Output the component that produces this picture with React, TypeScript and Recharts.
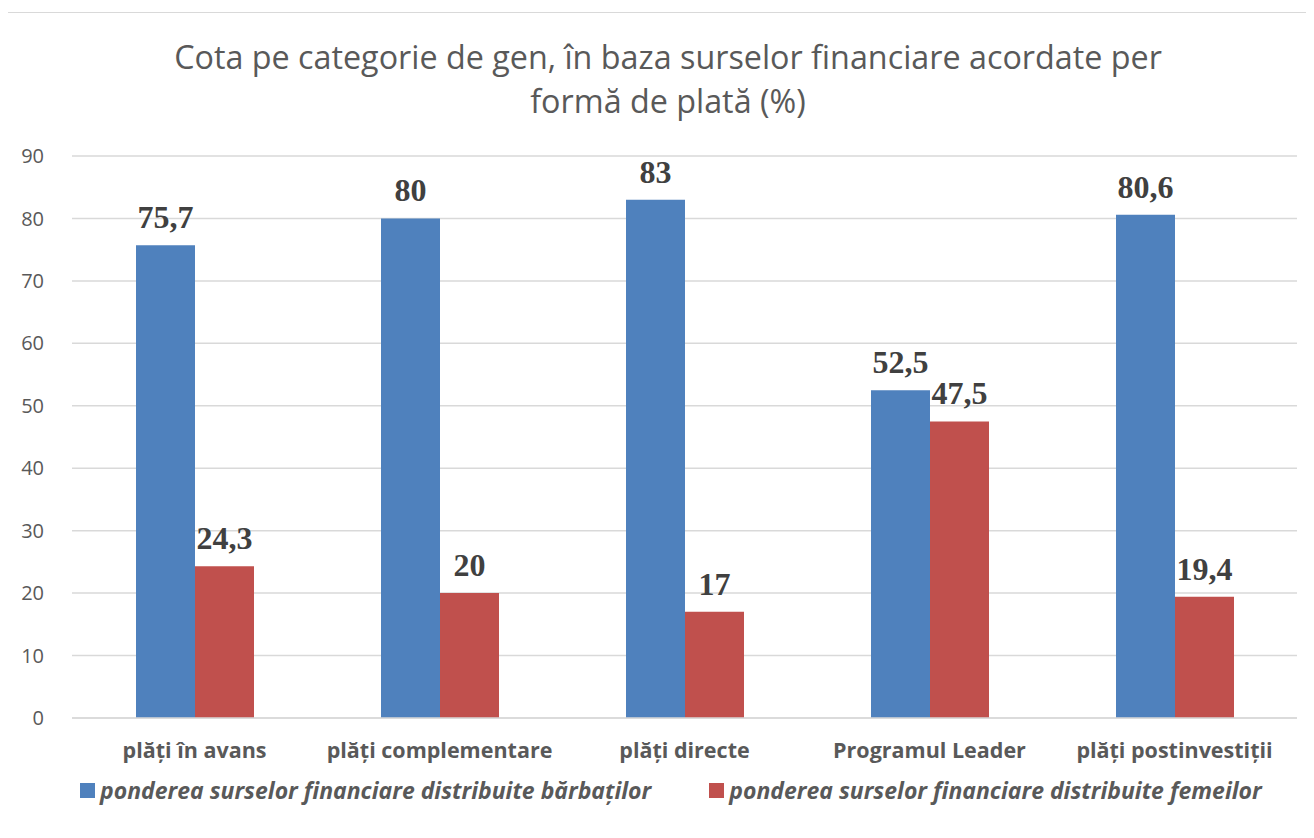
import { BarChart, Bar, XAxis, YAxis, CartesianGrid, LabelList } from 'recharts';

const categories = ['plăți în avans', 'plăți complementare', 'plăți directe', 'Programul Leader', 'plăți postinvestiții'];
const barbati = [75.7, 80, 83, 52.5, 80.6];
const femei = [24.3, 20, 17, 47.5, 19.4];
const yTicks = [0, 10, 20, 30, 40, 50, 60, 70, 80, 90];

const BLUE = '#4F81BD';
const RED = '#C0504D';
const SANS = '"Open Sans", "Noto Sans", sans-serif';
const SERIF = '"Liberation Serif", "Times New Roman", serif';

const data = categories.map((name, i) => ({ name, barbati: barbati[i], femei: femei[i] }));

const fmt = (v: any) => String(v).replace('.', ',');

const legendItems = [
  { color: BLUE, text: 'ponderea surselor financiare distribuite bărbaților' },
  { color: RED, text: 'ponderea surselor financiare distribuite femeilor' },
];

export default function App() {
  return (
    <div style={{ margin: -8, position: 'relative', width: 1314, height: 838, background: '#fff', overflow: 'hidden' }}>
      <div style={{ position: 'absolute', left: 7, top: 12, width: 1320, height: 840, border: '1px solid #d9d9d9' }} />
      <div style={{ position: 'absolute', left: 0, top: 34, width: 1336, textAlign: 'center', fontFamily: SANS, fontSize: 32.3, lineHeight: '44px', color: '#595959' }}>
        Cota pe categorie de gen, în baza surselor financiare acordate per<br />formă de plată (%)
      </div>
      <BarChart width={1314} height={838} data={data} margin={{ top: 156, right: 17, bottom: 90, left: 0 }} barGap={0} barSize={59}>
        <CartesianGrid vertical={false} stroke="#d9d9d9" strokeWidth={1.5} />
        <XAxis dataKey="name" height={30} axisLine={{ stroke: '#d9d9d9', strokeWidth: 1.5 }} tickLine={false} tickMargin={19}
          tick={{ fontFamily: SANS, fontWeight: 700, fontSize: 21.5, fill: '#595959' }} interval={0} />
        <YAxis domain={[0, 90]} ticks={yTicks} width={72} axisLine={false} tickLine={false} tickMargin={22}
          tick={{ fontFamily: SANS, fontSize: 20, fill: '#595959' }} />
        <Bar dataKey="barbati" fill={BLUE} isAnimationActive={false}>
          <LabelList dataKey="barbati" position="top" offset={17} formatter={fmt}
            style={{ fontFamily: SERIF, fontWeight: 700, fontSize: 32, fill: '#404040' }} />
        </Bar>
        <Bar dataKey="femei" fill={RED} isAnimationActive={false}>
          <LabelList dataKey="femei" position="top" offset={17} formatter={fmt}
            style={{ fontFamily: SERIF, fontWeight: 700, fontSize: 32, fill: '#404040' }} />
        </Bar>
      </BarChart>
      <div style={{ position: 'absolute', left: 80, top: 774, display: 'flex', gap: 58, fontFamily: SANS, fontStyle: 'italic', fontWeight: 700, fontSize: 23, lineHeight: '32px', color: '#595959', whiteSpace: 'nowrap' }}>
        {legendItems.map((it) => (
          <div key={it.text} style={{ display: 'flex', alignItems: 'center' }}>
            <span style={{ width: 15, height: 15, background: it.color, marginRight: 5, display: 'inline-block' }} />
            <span>{it.text}</span>
          </div>
        ))}
      </div>
    </div>
  );
}
